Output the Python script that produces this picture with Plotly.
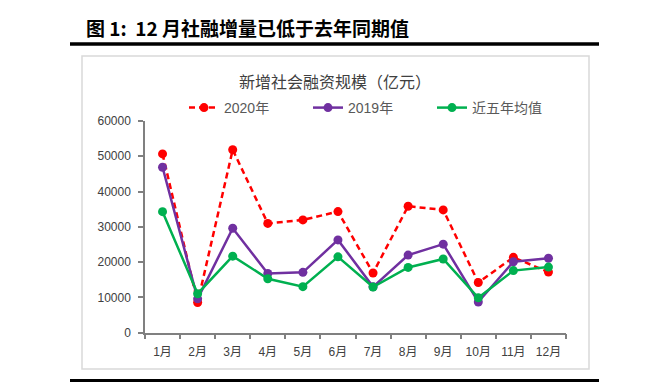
import plotly.graph_objects as go

W, H = 650, 382

months = ["1月", "2月", "3月", "4月", "5月", "6月", "7月", "8月", "9月", "10月", "11月", "12月"]
y2020 = [50668, 8554, 51848, 30975, 31966, 34325, 16916, 35853, 34792, 14227, 21351, 17183]
y2019 = [46900, 9600, 29600, 16800, 17100, 26300, 13000, 22000, 25100, 8700, 20100, 21100]
avg5 = [34300, 11050, 21700, 15300, 13050, 21500, 12950, 18500, 20900, 9900, 17600, 18600]
yticks = [0, 10000, 20000, 30000, 40000, 50000, 60000]

fig_title = "图 1:  12 月社融增量已低于去年同期值"
chart_title = "新增社会融资规模（亿元）"
names = ["2020年", "2019年", "近五年均值"]

def px(x):
    return x / W

def py(y):
    return 1 - y / H

RED, PURPLE, GREEN = "#FF0000", "#7030A0", "#00B050"
FONT = "Liberation Sans, Noto Sans CJK SC, sans-serif"

fig = go.Figure()
fig.add_trace(go.Scatter(x=months, y=y2020, name=names[0], mode="lines+markers",
                         line=dict(color=RED, width=2.5, dash="6px,4px"),
                         marker=dict(color=RED, size=9)))
fig.add_trace(go.Scatter(x=months, y=y2019, name=names[1], mode="lines+markers",
                         line=dict(color=PURPLE, width=2.5),
                         marker=dict(color=PURPLE, size=9)))
fig.add_trace(go.Scatter(x=months, y=avg5, name=names[2], mode="lines+markers",
                         line=dict(color=GREEN, width=2.5),
                         marker=dict(color=GREEN, size=9)))

fig.update_layout(
    autosize=True, height=H,
    margin=dict(l=0, r=0, t=0, b=0),
    paper_bgcolor="white", plot_bgcolor="white",
    font=dict(family=FONT, size=11, color="#404040"),
    showlegend=True,
    legend=dict(orientation="h", x=px(184), xanchor="left", y=py(108), yanchor="middle",
                entrywidth=124 / W, entrywidthmode="fraction",
                font=dict(family=FONT, size=14, color="#595959"),
                bgcolor="rgba(0,0,0,0)"),
    xaxis=dict(domain=[px(145), px(566)], type="category", range=[-0.5, 11.5],
               showline=True, linecolor="#808080", linewidth=1.5,
               ticks="outside", tickson="boundaries", ticklen=5, tickcolor="#808080", tickwidth=1.5,
               showgrid=False, zeroline=False, tickangle=0, automargin=False,
               ticklabelstandoff=7,
               tickfont=dict(family=FONT, size=12, color="#404040")),
    yaxis=dict(domain=[py(332.7), py(121)], range=[0, 60000],
               tickvals=yticks, ticktext=[str(v) for v in yticks],
               showline=True, linecolor="#808080", linewidth=1.5,
               ticks="outside", ticklen=5, tickcolor="#808080", tickwidth=1.5,
               showgrid=False, zeroline=False, automargin=False,
               ticklabelstandoff=5,
               tickfont=dict(family=FONT, size=12, color="#404040")),
)

fig.add_annotation(text=fig_title, xref="paper", yref="paper", x=px(84), y=py(28),
                   xanchor="left", yanchor="middle", showarrow=False,
                   font=dict(family="Noto Sans CJK SC", size=19, color="#000000", weight="bold"))
fig.add_annotation(text=chart_title, xref="paper", yref="paper", x=px(335), y=py(81),
                   xanchor="center", yanchor="middle", showarrow=False,
                   font=dict(family="Noto Sans CJK SC", size=16, color="#404040"))

fig.add_shape(type="line", xref="paper", yref="paper", x0=px(70), x1=px(599), y0=py(44), y1=py(44),
              line=dict(color="#000000", width=3.5))
fig.add_shape(type="line", xref="paper", yref="paper", x0=px(70), x1=px(599), y0=py(380.5), y1=py(380.5),
              line=dict(color="#000000", width=3))
fig.add_shape(type="rect", xref="paper", yref="paper", x0=px(82), x1=px(589), y0=py(56), y1=py(369),
              line=dict(color="#D9D9D9", width=1.5), layer="below")

post = (
    "document.body.style.margin='0';document.body.style.padding='0';"
    "document.documentElement.style.overflow='hidden';document.body.style.overflow='hidden';"
    "var gd=document.getElementById('{plot_id}');"
    "Plotly.relayout(gd,{width:document.documentElement.clientWidth,height:382});"
)
fig.write_html("out.html", default_width="100%", default_height="382px",
               config={"displayModeBar": False}, post_script=post)
